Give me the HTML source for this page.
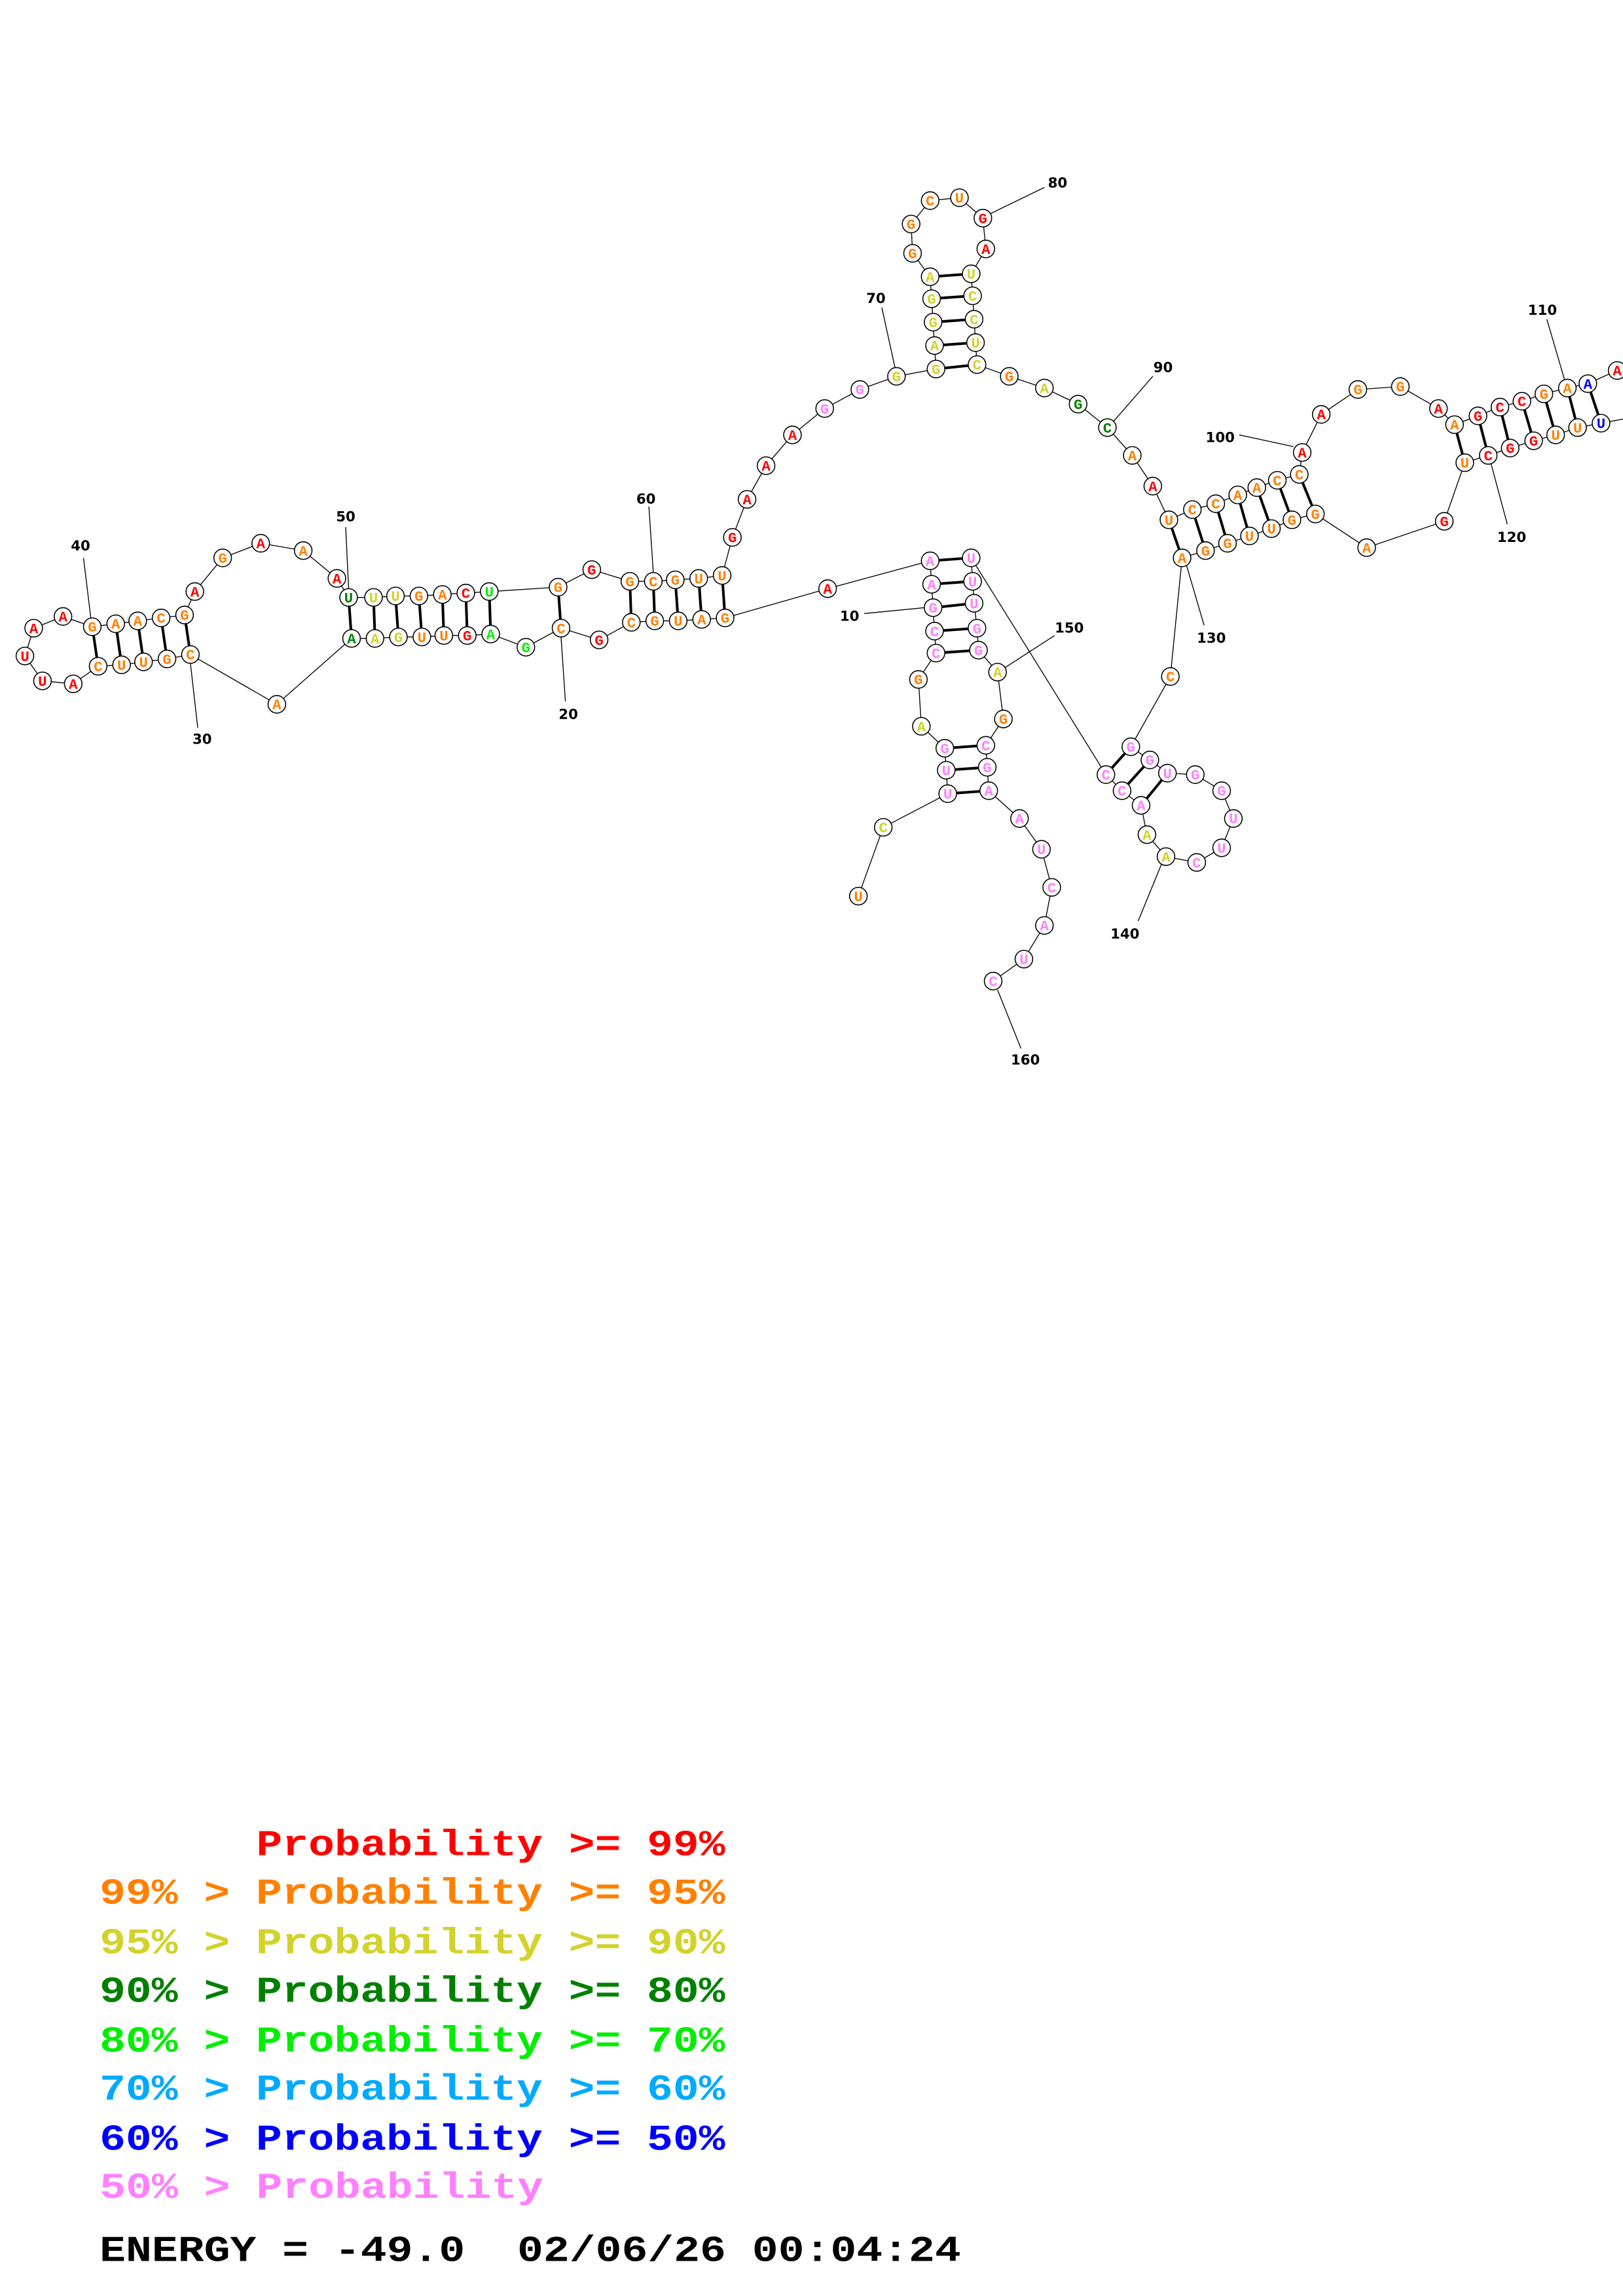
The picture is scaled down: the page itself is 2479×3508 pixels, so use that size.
<!DOCTYPE html>
<html><head><meta charset="utf-8"><style>
html,body{margin:0;padding:0;background:#fff}
svg{display:block}
.n circle{fill:#fff;stroke:#000;stroke-width:0.7}
.t text{font-family:"Liberation Mono",monospace;font-weight:bold;font-size:10px;text-anchor:middle}
.r{fill:#ff0000}.o{fill:#ff8000}.y{fill:#d2d22c}.d{fill:#008000}.g{fill:#00ee00}.b{fill:#0000ff}.p{fill:#ff80ff}.c{fill:#00aaff}.k{fill:#000}
.lab text{font-family:"DejaVu Sans",sans-serif;font-weight:bold;font-size:9.5px;text-anchor:middle;fill:#000}
.leg text{font-family:"Liberation Mono",monospace;font-weight:bold;font-size:25px}
</style></head><body>
<svg width="2479" height="3508" viewBox="0 0 1108 1568" preserveAspectRatio="none" xmlns="http://www.w3.org/2000/svg">
<rect width="1108" height="1568" fill="#fff"/>
<g fill="none" stroke="#000" stroke-width="0.6">
<polyline points="586,612 603,565 647,542 646,526 645,511 629,496 627,464 639,446 638,431 637,415 636,399 635,383 565,402 495,422 479,423 463,424 447,424 431,425 409,437 383,429 359,442 335,433 319,434 303,434 288,435 272,435 256,436 240,436 189,481 130,447 114,450 98,452 83,454 67,455 50,467 29,465 17,448 23,429 43,421 63,428 79,426 94,424 110,422 126,420 133,404 152,381 178,371 207,376 230,395 238,408 255,408 270,407 286,407 302,406 318,405 334,404 381,401 404,389 430,397 446,397 461,396 477,395 493,393 500,367 510,341 523,318 541,297 563,279 587,266 612,257 639,252 638,236 637,220 636,204 635,189 623,173 622,153 635,137 655,135 671,149 673,170 663,187 664,202 665,218 666,234 667,249 689,257 713,265 736,276 756,292 773,311 787,332 798,355 814,348 830,344 845,338 858,333 872,328 887,324 889,309 902,283 927,266 956,264 982,279 993,290 1009,284 1024,278 1039,274 1054,269 1070,265 1084,262 1104,253 1125,245"/>
<polyline points="1125,283 1093,289 1077,292 1062,297 1047,301 1031,306 1016,311 1000,316 986,356 933,374 898,351 882,355 868,361 853,366 838,371 823,376 807,381 799,462 772,510 785,519 797,528 816,529 834,540 842,559 834,579 817,589 796,585 783,570 779,550 766,540 755,529 663,381 664,397 665,412 667,429 668,444 681,459 685,491 673,509 674,524 675,540 696,559 711,580 718,606 713,632 699,655 678,670"/>
<line x1="57" y1="381" x2="62" y2="422"/>
<line x1="130" y1="453" x2="135" y2="497"/>
<line x1="236" y1="360" x2="238" y2="402"/>
<line x1="383" y1="435" x2="386" y2="479"/>
<line x1="443" y1="346" x2="446" y2="391"/>
<line x1="590" y1="419" x2="631" y2="415"/>
<line x1="602" y1="210" x2="611" y2="251"/>
<line x1="676" y1="146" x2="713" y2="128"/>
<line x1="760" y1="288" x2="787" y2="257"/>
<line x1="846" y1="297" x2="883" y2="305"/>
<line x1="1056" y1="218" x2="1068" y2="259"/>
<line x1="1018" y1="317" x2="1029" y2="358"/>
<line x1="810" y1="386" x2="822" y2="427"/>
<line x1="793" y1="590" x2="777" y2="629"/>
<line x1="686" y1="456" x2="720" y2="434"/>
<line x1="681" y1="676" x2="697" y2="716"/>
</g>
<g stroke="#000" stroke-width="1.8">
<line x1="63" y1="428" x2="67" y2="455"/><line x1="79" y1="426" x2="83" y2="454"/><line x1="94" y1="424" x2="98" y2="452"/><line x1="110" y1="422" x2="114" y2="450"/><line x1="126" y1="420" x2="130" y2="447"/>
<line x1="238" y1="408" x2="240" y2="436"/><line x1="255" y1="408" x2="256" y2="436"/><line x1="270" y1="407" x2="272" y2="435"/><line x1="286" y1="407" x2="288" y2="435"/><line x1="302" y1="406" x2="303" y2="434"/><line x1="318" y1="405" x2="319" y2="434"/><line x1="334" y1="404" x2="335" y2="433"/>
<line x1="381" y1="401" x2="383" y2="429"/>
<line x1="430" y1="397" x2="431" y2="425"/><line x1="446" y1="397" x2="447" y2="424"/><line x1="461" y1="396" x2="463" y2="424"/><line x1="477" y1="395" x2="479" y2="423"/><line x1="493" y1="393" x2="495" y2="422"/>
<line x1="639" y1="252" x2="667" y2="249"/><line x1="638" y1="236" x2="666" y2="234"/><line x1="637" y1="220" x2="665" y2="218"/><line x1="636" y1="204" x2="664" y2="202"/><line x1="635" y1="189" x2="663" y2="187"/>
<line x1="798" y1="355" x2="807" y2="381"/><line x1="814" y1="348" x2="823" y2="376"/><line x1="830" y1="344" x2="838" y2="371"/><line x1="845" y1="338" x2="853" y2="366"/><line x1="858" y1="333" x2="868" y2="361"/><line x1="872" y1="328" x2="882" y2="355"/><line x1="887" y1="324" x2="898" y2="351"/>
<line x1="993" y1="290" x2="1000" y2="316"/><line x1="1009" y1="284" x2="1016" y2="311"/><line x1="1024" y1="278" x2="1031" y2="306"/><line x1="1039" y1="274" x2="1047" y2="301"/><line x1="1054" y1="269" x2="1062" y2="297"/><line x1="1070" y1="265" x2="1077" y2="292"/><line x1="1084" y1="262" x2="1093" y2="289"/>
<line x1="635" y1="383" x2="663" y2="381"/><line x1="636" y1="399" x2="664" y2="397"/><line x1="637" y1="415" x2="665" y2="412"/><line x1="638" y1="431" x2="667" y2="429"/><line x1="639" y1="446" x2="668" y2="444"/>
<line x1="645" y1="511" x2="673" y2="509"/><line x1="646" y1="526" x2="674" y2="524"/><line x1="647" y1="542" x2="675" y2="540"/>
<line x1="772" y1="510" x2="755" y2="529"/><line x1="785" y1="519" x2="766" y2="540"/><line x1="797" y1="528" x2="779" y2="550"/>
</g>
<g class="n">
<circle cx="586" cy="612" r="6"/><circle cx="603" cy="565" r="6"/><circle cx="647" cy="542" r="6"/><circle cx="646" cy="526" r="6"/><circle cx="645" cy="511" r="6"/><circle cx="629" cy="496" r="6"/><circle cx="627" cy="464" r="6"/><circle cx="639" cy="446" r="6"/><circle cx="638" cy="431" r="6"/><circle cx="637" cy="415" r="6"/><circle cx="636" cy="399" r="6"/><circle cx="635" cy="383" r="6"/><circle cx="565" cy="402" r="6"/><circle cx="495" cy="422" r="6"/><circle cx="479" cy="423" r="6"/><circle cx="463" cy="424" r="6"/><circle cx="447" cy="424" r="6"/><circle cx="431" cy="425" r="6"/><circle cx="409" cy="437" r="6"/><circle cx="383" cy="429" r="6"/><circle cx="359" cy="442" r="6"/><circle cx="335" cy="433" r="6"/><circle cx="319" cy="434" r="6"/><circle cx="303" cy="434" r="6"/><circle cx="288" cy="435" r="6"/><circle cx="272" cy="435" r="6"/><circle cx="256" cy="436" r="6"/><circle cx="240" cy="436" r="6"/><circle cx="189" cy="481" r="6"/><circle cx="130" cy="447" r="6"/><circle cx="114" cy="450" r="6"/><circle cx="98" cy="452" r="6"/><circle cx="83" cy="454" r="6"/><circle cx="67" cy="455" r="6"/><circle cx="50" cy="467" r="6"/><circle cx="29" cy="465" r="6"/><circle cx="17" cy="448" r="6"/><circle cx="23" cy="429" r="6"/><circle cx="43" cy="421" r="6"/><circle cx="63" cy="428" r="6"/><circle cx="79" cy="426" r="6"/><circle cx="94" cy="424" r="6"/><circle cx="110" cy="422" r="6"/><circle cx="126" cy="420" r="6"/><circle cx="133" cy="404" r="6"/><circle cx="152" cy="381" r="6"/><circle cx="178" cy="371" r="6"/><circle cx="207" cy="376" r="6"/><circle cx="230" cy="395" r="6"/><circle cx="238" cy="408" r="6"/><circle cx="255" cy="408" r="6"/><circle cx="270" cy="407" r="6"/><circle cx="286" cy="407" r="6"/><circle cx="302" cy="406" r="6"/><circle cx="318" cy="405" r="6"/><circle cx="334" cy="404" r="6"/><circle cx="381" cy="401" r="6"/><circle cx="404" cy="389" r="6"/><circle cx="430" cy="397" r="6"/><circle cx="446" cy="397" r="6"/><circle cx="461" cy="396" r="6"/><circle cx="477" cy="395" r="6"/><circle cx="493" cy="393" r="6"/><circle cx="500" cy="367" r="6"/><circle cx="510" cy="341" r="6"/><circle cx="523" cy="318" r="6"/><circle cx="541" cy="297" r="6"/><circle cx="563" cy="279" r="6"/><circle cx="587" cy="266" r="6"/><circle cx="612" cy="257" r="6"/><circle cx="639" cy="252" r="6"/><circle cx="638" cy="236" r="6"/><circle cx="637" cy="220" r="6"/><circle cx="636" cy="204" r="6"/><circle cx="635" cy="189" r="6"/><circle cx="623" cy="173" r="6"/><circle cx="622" cy="153" r="6"/><circle cx="635" cy="137" r="6"/><circle cx="655" cy="135" r="6"/><circle cx="671" cy="149" r="6"/><circle cx="673" cy="170" r="6"/><circle cx="663" cy="187" r="6"/><circle cx="664" cy="202" r="6"/><circle cx="665" cy="218" r="6"/><circle cx="666" cy="234" r="6"/><circle cx="667" cy="249" r="6"/><circle cx="689" cy="257" r="6"/><circle cx="713" cy="265" r="6"/><circle cx="736" cy="276" r="6"/><circle cx="756" cy="292" r="6"/><circle cx="773" cy="311" r="6"/><circle cx="787" cy="332" r="6"/><circle cx="798" cy="355" r="6"/><circle cx="814" cy="348" r="6"/><circle cx="830" cy="344" r="6"/><circle cx="845" cy="338" r="6"/><circle cx="858" cy="333" r="6"/><circle cx="872" cy="328" r="6"/><circle cx="887" cy="324" r="6"/><circle cx="889" cy="309" r="6"/><circle cx="902" cy="283" r="6"/><circle cx="927" cy="266" r="6"/><circle cx="956" cy="264" r="6"/><circle cx="982" cy="279" r="6"/><circle cx="993" cy="290" r="6"/><circle cx="1009" cy="284" r="6"/><circle cx="1024" cy="278" r="6"/><circle cx="1039" cy="274" r="6"/><circle cx="1054" cy="269" r="6"/><circle cx="1070" cy="265" r="6"/><circle cx="1084" cy="262" r="6"/><circle cx="1104" cy="253" r="6"/>
<circle cx="1093" cy="289" r="6"/><circle cx="1077" cy="292" r="6"/><circle cx="1062" cy="297" r="6"/><circle cx="1047" cy="301" r="6"/><circle cx="1031" cy="306" r="6"/><circle cx="1016" cy="311" r="6"/><circle cx="1000" cy="316" r="6"/><circle cx="986" cy="356" r="6"/><circle cx="933" cy="374" r="6"/><circle cx="898" cy="351" r="6"/><circle cx="882" cy="355" r="6"/><circle cx="868" cy="361" r="6"/><circle cx="853" cy="366" r="6"/><circle cx="838" cy="371" r="6"/><circle cx="823" cy="376" r="6"/><circle cx="807" cy="381" r="6"/><circle cx="799" cy="462" r="6"/><circle cx="772" cy="510" r="6"/><circle cx="785" cy="519" r="6"/><circle cx="797" cy="528" r="6"/><circle cx="816" cy="529" r="6"/><circle cx="834" cy="540" r="6"/><circle cx="842" cy="559" r="6"/><circle cx="834" cy="579" r="6"/><circle cx="817" cy="589" r="6"/><circle cx="796" cy="585" r="6"/><circle cx="783" cy="570" r="6"/><circle cx="779" cy="550" r="6"/><circle cx="766" cy="540" r="6"/><circle cx="755" cy="529" r="6"/><circle cx="663" cy="381" r="6"/><circle cx="664" cy="397" r="6"/><circle cx="665" cy="412" r="6"/><circle cx="667" cy="429" r="6"/><circle cx="668" cy="444" r="6"/><circle cx="681" cy="459" r="6"/><circle cx="685" cy="491" r="6"/><circle cx="673" cy="509" r="6"/><circle cx="674" cy="524" r="6"/><circle cx="675" cy="540" r="6"/><circle cx="696" cy="559" r="6"/><circle cx="711" cy="580" r="6"/><circle cx="718" cy="606" r="6"/><circle cx="713" cy="632" r="6"/><circle cx="699" cy="655" r="6"/><circle cx="678" cy="670" r="6"/>
</g>
<g class="t" transform="translate(0,3.4)">
<text x="586" y="612" class="o">U</text><text x="603" y="565" class="y">C</text><text x="647" y="542" class="p">U</text><text x="646" y="526" class="p">U</text><text x="645" y="511" class="p">G</text><text x="629" y="496" class="y">A</text><text x="627" y="464" class="o">G</text><text x="639" y="446" class="p">C</text><text x="638" y="431" class="p">C</text><text x="637" y="415" class="p">G</text><text x="636" y="399" class="p">A</text><text x="635" y="383" class="p">A</text><text x="565" y="402" class="r">A</text><text x="495" y="422" class="o">G</text><text x="479" y="423" class="o">A</text><text x="463" y="424" class="o">U</text><text x="447" y="424" class="o">G</text><text x="431" y="425" class="o">C</text><text x="409" y="437" class="r">G</text><text x="383" y="429" class="o">C</text><text x="359" y="442" class="g">G</text><text x="335" y="433" class="g">A</text><text x="319" y="434" class="r">G</text><text x="303" y="434" class="o">U</text><text x="288" y="435" class="o">U</text><text x="272" y="435" class="y">G</text><text x="256" y="436" class="y">A</text><text x="240" y="436" class="d">A</text><text x="189" y="481" class="o">A</text><text x="130" y="447" class="o">C</text><text x="114" y="450" class="o">G</text><text x="98" y="452" class="o">U</text><text x="83" y="454" class="o">U</text><text x="67" y="455" class="o">C</text><text x="50" y="467" class="r">A</text><text x="29" y="465" class="r">U</text><text x="17" y="448" class="r">U</text><text x="23" y="429" class="r">A</text><text x="43" y="421" class="r">A</text><text x="63" y="428" class="o">G</text><text x="79" y="426" class="o">A</text><text x="94" y="424" class="o">A</text><text x="110" y="422" class="o">C</text><text x="126" y="420" class="o">G</text><text x="133" y="404" class="r">A</text><text x="152" y="381" class="o">G</text><text x="178" y="371" class="r">A</text><text x="207" y="376" class="o">A</text><text x="230" y="395" class="r">A</text><text x="238" y="408" class="d">U</text><text x="255" y="408" class="y">U</text><text x="270" y="407" class="y">U</text><text x="286" y="407" class="o">G</text><text x="302" y="406" class="o">A</text><text x="318" y="405" class="r">C</text><text x="334" y="404" class="g">U</text><text x="381" y="401" class="o">G</text><text x="404" y="389" class="r">G</text><text x="430" y="397" class="o">G</text><text x="446" y="397" class="o">C</text><text x="461" y="396" class="o">G</text><text x="477" y="395" class="o">U</text><text x="493" y="393" class="o">U</text><text x="500" y="367" class="r">G</text><text x="510" y="341" class="r">A</text><text x="523" y="318" class="r">A</text><text x="541" y="297" class="r">A</text><text x="563" y="279" class="p">G</text><text x="587" y="266" class="p">G</text><text x="612" y="257" class="y">G</text><text x="639" y="252" class="y">G</text><text x="638" y="236" class="y">A</text><text x="637" y="220" class="y">G</text><text x="636" y="204" class="y">G</text><text x="635" y="189" class="y">A</text><text x="623" y="173" class="o">G</text><text x="622" y="153" class="o">G</text><text x="635" y="137" class="o">C</text><text x="655" y="135" class="o">U</text><text x="671" y="149" class="r">G</text><text x="673" y="170" class="r">A</text><text x="663" y="187" class="y">U</text><text x="664" y="202" class="y">C</text><text x="665" y="218" class="y">C</text><text x="666" y="234" class="y">U</text><text x="667" y="249" class="y">C</text><text x="689" y="257" class="o">G</text><text x="713" y="265" class="y">A</text><text x="736" y="276" class="d">G</text><text x="756" y="292" class="d">C</text><text x="773" y="311" class="o">A</text><text x="787" y="332" class="r">A</text><text x="798" y="355" class="o">U</text><text x="814" y="348" class="o">C</text><text x="830" y="344" class="o">C</text><text x="845" y="338" class="o">A</text><text x="858" y="333" class="o">A</text><text x="872" y="328" class="o">C</text><text x="887" y="324" class="o">C</text><text x="889" y="309" class="r">A</text><text x="902" y="283" class="r">A</text><text x="927" y="266" class="o">G</text><text x="956" y="264" class="o">G</text><text x="982" y="279" class="r">A</text><text x="993" y="290" class="o">A</text><text x="1009" y="284" class="r">G</text><text x="1024" y="278" class="r">C</text><text x="1039" y="274" class="r">C</text><text x="1054" y="269" class="o">G</text><text x="1070" y="265" class="o">A</text><text x="1084" y="262" class="b">A</text><text x="1104" y="253" class="r">A</text>
<text x="1093" y="289" class="b">U</text><text x="1077" y="292" class="o">U</text><text x="1062" y="297" class="o">U</text><text x="1047" y="301" class="r">G</text><text x="1031" y="306" class="r">G</text><text x="1016" y="311" class="r">C</text><text x="1000" y="316" class="o">U</text><text x="986" y="356" class="r">G</text><text x="933" y="374" class="o">A</text><text x="898" y="351" class="o">G</text><text x="882" y="355" class="o">G</text><text x="868" y="361" class="o">U</text><text x="853" y="366" class="o">U</text><text x="838" y="371" class="o">G</text><text x="823" y="376" class="o">G</text><text x="807" y="381" class="o">A</text><text x="799" y="462" class="o">C</text><text x="772" y="510" class="p">G</text><text x="785" y="519" class="p">G</text><text x="797" y="528" class="p">U</text><text x="816" y="529" class="p">G</text><text x="834" y="540" class="p">G</text><text x="842" y="559" class="p">U</text><text x="834" y="579" class="p">U</text><text x="817" y="589" class="p">C</text><text x="796" y="585" class="y">A</text><text x="783" y="570" class="y">A</text><text x="779" y="550" class="p">A</text><text x="766" y="540" class="p">C</text><text x="755" y="529" class="p">C</text><text x="663" y="381" class="p">U</text><text x="664" y="397" class="p">U</text><text x="665" y="412" class="p">U</text><text x="667" y="429" class="p">G</text><text x="668" y="444" class="p">G</text><text x="681" y="459" class="y">A</text><text x="685" y="491" class="o">G</text><text x="673" y="509" class="p">C</text><text x="674" y="524" class="p">G</text><text x="675" y="540" class="p">A</text><text x="696" y="559" class="p">A</text><text x="711" y="580" class="p">U</text><text x="718" y="606" class="p">C</text><text x="713" y="632" class="p">A</text><text x="699" y="655" class="p">U</text><text x="678" y="670" class="p">C</text>
</g>
<g class="lab">
<text x="55" y="376">40</text><text x="138" y="508">30</text><text x="236" y="356">50</text><text x="388" y="491">20</text><text x="441" y="344">60</text><text x="580" y="424">10</text><text x="598" y="207">70</text><text x="722" y="128">80</text><text x="794" y="254">90</text><text x="833" y="302">100</text><text x="1053" y="215">110</text><text x="1032" y="370">120</text><text x="827" y="439">130</text><text x="768" y="641">140</text><text x="730" y="432">150</text><text x="700" y="727">160</text>
</g>
<g class="leg">
<text x="175" y="1267" class="r" textLength="320" lengthAdjust="spacingAndGlyphs">Probability &gt;= 99%</text>
<text x="68" y="1300" class="o" textLength="427" lengthAdjust="spacingAndGlyphs">99% &gt; Probability &gt;= 95%</text>
<text x="68" y="1334" class="y" textLength="427" lengthAdjust="spacingAndGlyphs">95% &gt; Probability &gt;= 90%</text>
<text x="68" y="1367" class="d" textLength="427" lengthAdjust="spacingAndGlyphs">90% &gt; Probability &gt;= 80%</text>
<text x="68" y="1401" class="g" textLength="427" lengthAdjust="spacingAndGlyphs">80% &gt; Probability &gt;= 70%</text>
<text x="68" y="1434" class="c" textLength="427" lengthAdjust="spacingAndGlyphs">70% &gt; Probability &gt;= 60%</text>
<text x="68" y="1468" class="b" textLength="427" lengthAdjust="spacingAndGlyphs">60% &gt; Probability &gt;= 50%</text>
<text x="68" y="1501" class="p" textLength="303" lengthAdjust="spacingAndGlyphs">50% &gt; Probability</text>
<text x="68" y="1544" class="k" textLength="588" lengthAdjust="spacingAndGlyphs" xml:space="preserve">ENERGY = -49.0  02/06/26 00:04:24</text>
</g>
</svg>
</body></html>
